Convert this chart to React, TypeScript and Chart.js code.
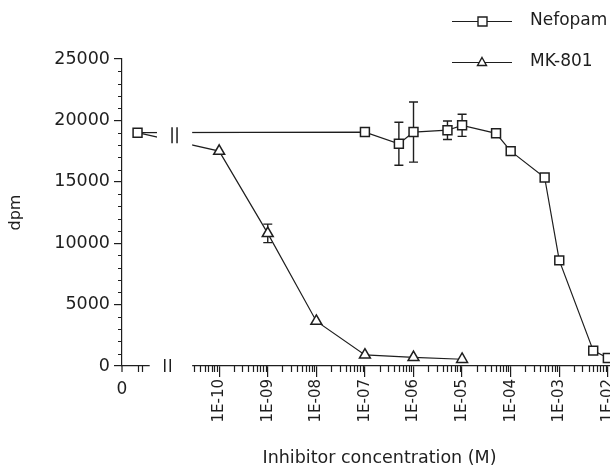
import React, { useEffect, useRef } from 'react';
import { Chart, registerables } from 'chart.js';

Chart.register(...registerables);

// ---------- data ----------
const nefopamConc = [1e-7, 5e-7, 1e-6, 5e-6, 1e-5, 5e-5, 1e-4, 5e-4, 1e-3, 5e-3, 1e-2];
const nefopamDpm = [19050, 18100, 19050, 19200, 19600, 18950, 17500, 15350, 8600, 1250, 650];
const nefopamErr = [0, 1750, 2450, 750, 900, 0, 0, 0, 0, 0, 0];
const nefopamControl = 19000;

const mk801Conc = [1e-10, 1e-9, 1e-8, 1e-7, 1e-6, 1e-5];
const mk801Dpm = [17500, 10800, 3650, 900, 700, 550];
const mk801Err = [0, 750, 0, 0, 0, 0];
const mk801Control = 19000;

// position of the zero-concentration (control) group on the x axis, in log10 units
const controlPos = -11.68;
const zeroSegmentTicks = [-11.68, -11.58];

const xTickExponents = [-10, -9, -8, -7, -6, -5, -4, -3, -2];
const xTickLabels = ['1E-10', '1E-09', '1E-08', '1E-07', '1E-06', '1E-05', '1E-04', '1E-03', '1E-02'];
const yTickValues = [0, 5000, 10000, 15000, 20000, 25000];
const yMinorStep = 1000;

const X_MIN = -12;
const X_MAX = -1.4;
const AXIS_BREAK_FROM = -11.43;
const DATA_BREAK_FROM = -11.28;
const BREAK_TO = -10.556;

const FONT = '"DejaVu Sans", Verdana, sans-serif';
const INK = '#1e1e1e';

const toPts = (conc: number[], vals: number[], control: number) => [
  { x: controlPos, y: control },
  ...conc.map((c, i) => ({ x: Math.log10(c), y: vals[i] })),
];

const decorPlugin = {
  id: 'decor',
  beforeDatasetsDraw(chart: any) {
    const ctx = chart.ctx;
    const xs = chart.scales.x;
    const ys = chart.scales.y;
    ctx.save();
    ctx.strokeStyle = INK;
    ctx.lineWidth = 1.4;
    const bars = (conc: number[], vals: number[], errs: number[]) => {
      conc.forEach((c, i) => {
        if (!errs[i]) return;
        const px = xs.getPixelForValue(Math.log10(c));
        const top = ys.getPixelForValue(vals[i] + errs[i]);
        const bot = ys.getPixelForValue(vals[i] - errs[i]);
        ctx.beginPath();
        ctx.moveTo(px, top);
        ctx.lineTo(px, bot);
        ctx.moveTo(px - 4.5, top);
        ctx.lineTo(px + 4.5, top);
        ctx.moveTo(px - 4.5, bot);
        ctx.lineTo(px + 4.5, bot);
        ctx.stroke();
      });
    };
    bars(nefopamConc, nefopamDpm, nefopamErr);
    bars(mk801Conc, mk801Dpm, mk801Err);
    ctx.restore();
  },
  afterDatasetsDraw(chart: any) {
    const ctx = chart.ctx;
    const xs = chart.scales.x;
    const ys = chart.scales.y;
    const area = chart.chartArea;
    const axisY = ys.getPixelForValue(0);
    const yAxisX = area.left;
    ctx.save();
    // axis break: blank out gap
    ctx.fillStyle = '#ffffff';
    const dFrom = xs.getPixelForValue(DATA_BREAK_FROM);
    const aFrom = xs.getPixelForValue(AXIS_BREAK_FROM);
    const bTo = xs.getPixelForValue(BREAK_TO);
    ctx.fillRect(dFrom, area.top - 2, bTo - dFrom, axisY - 2 - area.top + 2);
    ctx.fillRect(aFrom, axisY - 3, bTo - aFrom, 6);

    ctx.strokeStyle = INK;
    ctx.lineWidth = 1.2;
    // x minor ticks (log)
    ctx.beginPath();
    for (let k = -11; k <= -2; k++) {
      for (let m = 2; m <= 9; m++) {
        const v = k + Math.log10(m);
        if (v < BREAK_TO - 0.001 || v > X_MAX) continue;
        const px = Math.round(xs.getPixelForValue(v)) + 0.5;
        ctx.moveTo(px, axisY);
        ctx.lineTo(px, axisY + 6);
      }
    }
    zeroSegmentTicks.forEach((v) => {
      const px = Math.round(xs.getPixelForValue(v)) + 0.5;
      ctx.moveTo(px, axisY);
      ctx.lineTo(px, axisY + 6);
    });
    ctx.moveTo(yAxisX, axisY);
    ctx.lineTo(yAxisX, axisY + 6);
    // y minor ticks
    for (let v = 0; v <= 25000; v += yMinorStep) {
      if (v % 5000 === 0) continue;
      const py = Math.round(ys.getPixelForValue(v)) + 0.5;
      ctx.moveTo(yAxisX - 4, py);
      ctx.lineTo(yAxisX, py);
    }
    ctx.stroke();

    // break marks
    ctx.lineWidth = 1.5;
    ctx.beginPath();
    const ab = xs.getPixelForValue(-11.12);
    [ab, ab + 5.5].forEach((px) => {
      ctx.moveTo(px, axisY - 7);
      ctx.lineTo(px, axisY + 6);
    });
    const db = xs.getPixelForValue(-10.97);
    const dy = ys.getPixelForValue(18800);
    [db, db + 5].forEach((px) => {
      ctx.moveTo(px, dy - 8);
      ctx.lineTo(px, dy + 8);
    });
    ctx.stroke();

    // "0" label for control group
    ctx.fillStyle = INK;
    ctx.font = `17px ${FONT}`;
    ctx.textAlign = 'center';
    ctx.textBaseline = 'middle';
    ctx.fillText('0', yAxisX, axisY + 24);

    // legend
    const rows = [21, 62];
    chart.data.datasets.forEach((ds: any, i: number) => {
      const y = rows[i];
      ctx.strokeStyle = INK;
      ctx.lineWidth = 1.2;
      ctx.beginPath();
      ctx.moveTo(452, y + 0.5);
      ctx.lineTo(512, y + 0.5);
      ctx.stroke();
      Chart.helpers?.drawPoint;
      ctx.fillStyle = '#ffffff';
      ctx.lineWidth = 1.4;
      ctx.beginPath();
      if (ds.pointStyle === 'rect') {
        ctx.rect(478, y - 4, 9, 9);
      } else {
        ctx.moveTo(482, y - 4.5);
        ctx.lineTo(486.5, y + 3.5);
        ctx.lineTo(477.5, y + 3.5);
        ctx.closePath();
      }
      ctx.fill();
      ctx.stroke();
      ctx.fillStyle = INK;
      ctx.font = `17px ${FONT}`;
      ctx.textAlign = 'left';
      ctx.textBaseline = 'middle';
      ctx.fillText(ds.label, 530, y);
    });
    ctx.restore();
  },
};

export default function App() {
  const ref = useRef<HTMLCanvasElement | null>(null);

  useEffect(() => {
    if (!ref.current) return;
    const chart = new Chart(ref.current, {
      type: 'line',
      data: {
        datasets: [
          {
            label: 'Nefopam',
            data: toPts(nefopamConc, nefopamDpm, nefopamControl),
            borderColor: INK,
            borderWidth: 1.2,
            pointStyle: 'rect',
            pointRadius: 6.3,
            pointBorderWidth: 1.5,
            pointBackgroundColor: '#ffffff',
            pointBorderColor: INK,
            tension: 0,
            fill: false,
          },
          {
            label: 'MK-801',
            data: toPts(mk801Conc, mk801Dpm, mk801Control),
            borderColor: INK,
            borderWidth: 1.2,
            pointStyle: 'triangle',
            pointRadius: (c: any) => (c.dataIndex === 0 ? 0 : 6.3),
            pointBorderWidth: 1.5,
            pointBackgroundColor: '#ffffff',
            pointBorderColor: INK,
            tension: 0,
            fill: false,
          },
        ],
      },
      options: {
        animation: false,
        responsive: true,
        maintainAspectRatio: false,
        layout: { padding: { top: 59, right: 8, left: 0, bottom: 0 } },
        plugins: { legend: { display: false }, tooltip: { enabled: false }, title: { display: false } },
        scales: {
          x: {
            type: 'linear',
            min: X_MIN,
            max: X_MAX,
            afterBuildTicks: (s: any) => {
              s.ticks = xTickExponents.map((v) => ({ value: v }));
            },
            afterFit: (s: any) => {
              s.height = 101;
            },
            grid: { display: true, drawOnChartArea: false, drawTicks: true, tickLength: 11, color: INK, lineWidth: 1.2 },
            border: { display: true, color: INK, width: 1.2 },
            ticks: {
              autoSkip: false,
              minRotation: 90,
              maxRotation: 90,
              padding: 2,
              color: INK,
              font: { family: FONT, size: 15 },
              callback: (v: any) => xTickLabels[xTickExponents.indexOf(Number(v))] ?? '',
            },
            title: {
              display: true,
              text: 'Inhibitor concentration (M)',
              color: INK,
              font: { family: FONT, size: 17.5, lineHeight: 1 },
              padding: { top: 0, bottom: 0 },
            },
          },
          y: {
            type: 'linear',
            min: 0,
            max: 25000,
            afterBuildTicks: (s: any) => {
              s.ticks = yTickValues.map((v) => ({ value: v }));
            },
            afterFit: (s: any) => {
              s.width = 122;
            },
            grid: { display: true, drawOnChartArea: false, drawTicks: true, tickLength: 8, color: INK, lineWidth: 1.2 },
            border: { display: true, color: INK, width: 1.2 },
            ticks: {
              padding: 4,
              color: INK,
              font: { family: FONT, size: 17.5 },
              callback: (v: any) => String(v),
            },
            title: {
              display: true,
              text: 'dpm',
              color: INK,
              font: { family: FONT, size: 16 },
              padding: { top: 6, bottom: 0 },
            },
          },
        },
      },
      plugins: [decorPlugin],
    } as any);
    return () => chart.destroy();
  }, []);

  return (
    <div style={{ position: 'absolute', left: 0, top: 0, width: 610, height: 467, overflow: 'hidden', background: '#fff' }}>
      <div style={{ position: 'relative', width: 645, height: 467 }}>
        <canvas ref={ref} />
      </div>
    </div>
  );
}
